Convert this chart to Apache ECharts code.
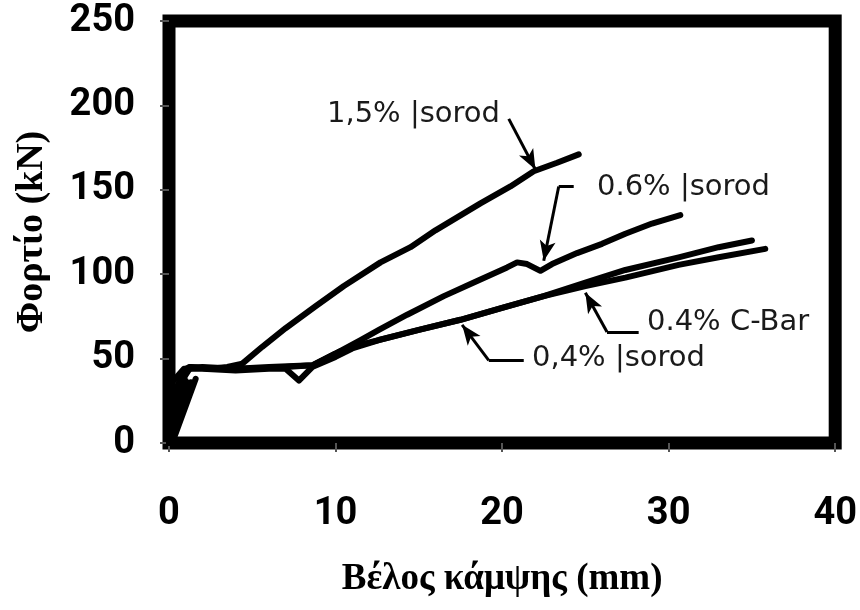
<!DOCTYPE html>
<html>
<head>
<meta charset="utf-8">
<script src="https://cdn.jsdelivr.net/npm/echarts@6/dist/echarts.min.js"></script>
<style>html,body{margin:0;padding:0;background:#fff;}#c{width:860px;height:610px;}</style>
</head>
<body>
<div id="c"></div>
<script>
// Data: deflection (mm) vs load (kN)
const s15 = [[0,0],[0.3,20],[0.8,42],[1.2,45],[2.5,44],[3.5,45],[4.4,47],[5.6,57],[7,68],[8.8,81],[10.5,93],[12.7,107],[14.5,116],[16,126],[18.7,142],[20.5,152],[21.9,161],[23.3,166],[24.6,171]];
const s06 = [[0,0],[0.5,15],[1,44],[2,45],[4,44],[6,45],[8.6,46],[10,53],[11.5,61],[12.6,67],[14.3,76],[16.5,87],[18.5,96],[20.3,104],[20.9,107],[21.5,106],[22.3,102],[23,106],[24.5,112.5],[26,118],[27.4,124],[29,130],[30.7,135]];
const s04iso = [[0,0],[0.1,35],[0.9,44],[2,44],[4,43],[6,44],[7,44],[7.8,37],[8.6,45],[10,51],[11,56],[12.6,61],[15,67],[17.5,73],[20,80],[22.5,87],[25,95],[27.4,102.5],[30.6,110],[33,116],[35,120]];
const s04cbar = [[0,0],[1.6,38],[0.3,3],[1.3,36],[0.2,10],[1,37],[0.1,20],[0.7,38],[0.2,28],[1.3,45],[3,44],[5,44],[7,45],[8.6,46],[10.2,54],[11.8,59],[13,62],[15,67],[17.5,73],[20,80],[22.5,87],[25,93],[27.4,98],[30.6,105.5],[33,110],[35.8,115]];
const seriesNames = ['1,5% |sorod','0.6% |sorod','0,4% |sorod','0.4% C-Bar'];
const xTicks = [0,10,20,30,40];
const yTicks = [0,50,100,150,200,250];
// annotation arrows (data units)
const arrow15 = [[20.4,192],[22,162]];
const arrow06 = [[24.3,152],[23.4,152],[22.5,108]];
const arrowCbar = [[28.2,65.8],[26.3,65.8],[25,89]];
const arrow04 = [[21.3,49],[19.2,49],[17.6,70]];

const chart = echarts.init(document.getElementById('c'));
const tickFont = {fontFamily:'Roboto,"Liberation Sans",sans-serif', fontWeight:'bold', fontSize:38, color:'#000'};

function arrowLines(pts){
  const out = [];
  for(let i=0;i<pts.length-1;i++){
    const last = i===pts.length-2;
    out.push([{coord:pts[i], symbol:'none'},{coord:pts[i+1], symbol:last?'arrow':'none', symbolSize:last?[12,20]:0}]);
  }
  return out;
}
const lineStyle = {color:'#000', width:6, cap:'round', join:'round'};
const mkSeries = (name,data)=>({name, type:'line', data, showSymbol:false, symbol:'none', lineStyle, silent:true, animation:false});

const series = [mkSeries(seriesNames[0],s15), mkSeries(seriesNames[1],s06), mkSeries(seriesNames[2],s04iso), mkSeries(seriesNames[3],s04cbar)];
series.push({type:'line', data:[], silent:true, animation:false,
  markLine:{silent:true, animation:false, label:{show:false}, lineStyle:{color:'#000', width:3, type:'solid'},
    data:[].concat(arrowLines(arrow15), arrowLines(arrow06), arrowLines(arrowCbar), arrowLines(arrow04))}});

const annFont = {fontFamily:'"DejaVu Sans",sans-serif', fontSize:29, fill:'#1a1a1a'};
chart.setOption({
  animation:false,
  backgroundColor:'#fff',
  grid:{left:169, right:19, top:21, bottom:167, show:true, borderColor:'#000', borderWidth:13, backgroundColor:'transparent'},
  xAxis:{type:'value', min:0, max:40, interval:10,
    axisLine:{show:false}, splitLine:{show:false},
    axisTick:{show:true, length:9, lineStyle:{color:'#555', width:2}},
    axisLabel:Object.assign({margin:52}, tickFont),
    name:'Βέλος κάμψης (mm)', nameLocation:'middle', nameGap:118,
    nameTextStyle:{fontFamily:'"Liberation Serif",serif', fontWeight:'bold', fontSize:37, color:'#000'}},
  yAxis:{type:'value', min:0, max:250, interval:50,
    axisLine:{show:false}, splitLine:{show:false},
    axisTick:{show:true, length:9, lineStyle:{color:'#555', width:2}},
    axisLabel:Object.assign({margin:34}, tickFont),
    name:'Φορτίο (kN)', nameLocation:'middle', nameGap:118, nameRotate:90,
    nameTextStyle:{fontFamily:'"Liberation Serif",serif', fontWeight:'bold', fontSize:38, color:'#000'}},
  graphic:[
    {type:'text', left:327, top:100, style:Object.assign({text:seriesNames[0]}, annFont)},
    {type:'text', left:597, top:173, style:Object.assign({text:seriesNames[1]}, annFont)},
    {type:'text', left:647, top:308, style:Object.assign({text:seriesNames[3]}, annFont)},
    {type:'text', left:532, top:344, style:Object.assign({text:seriesNames[2]}, annFont)}
  ],
  series
});
</script>
</body>
</html>
